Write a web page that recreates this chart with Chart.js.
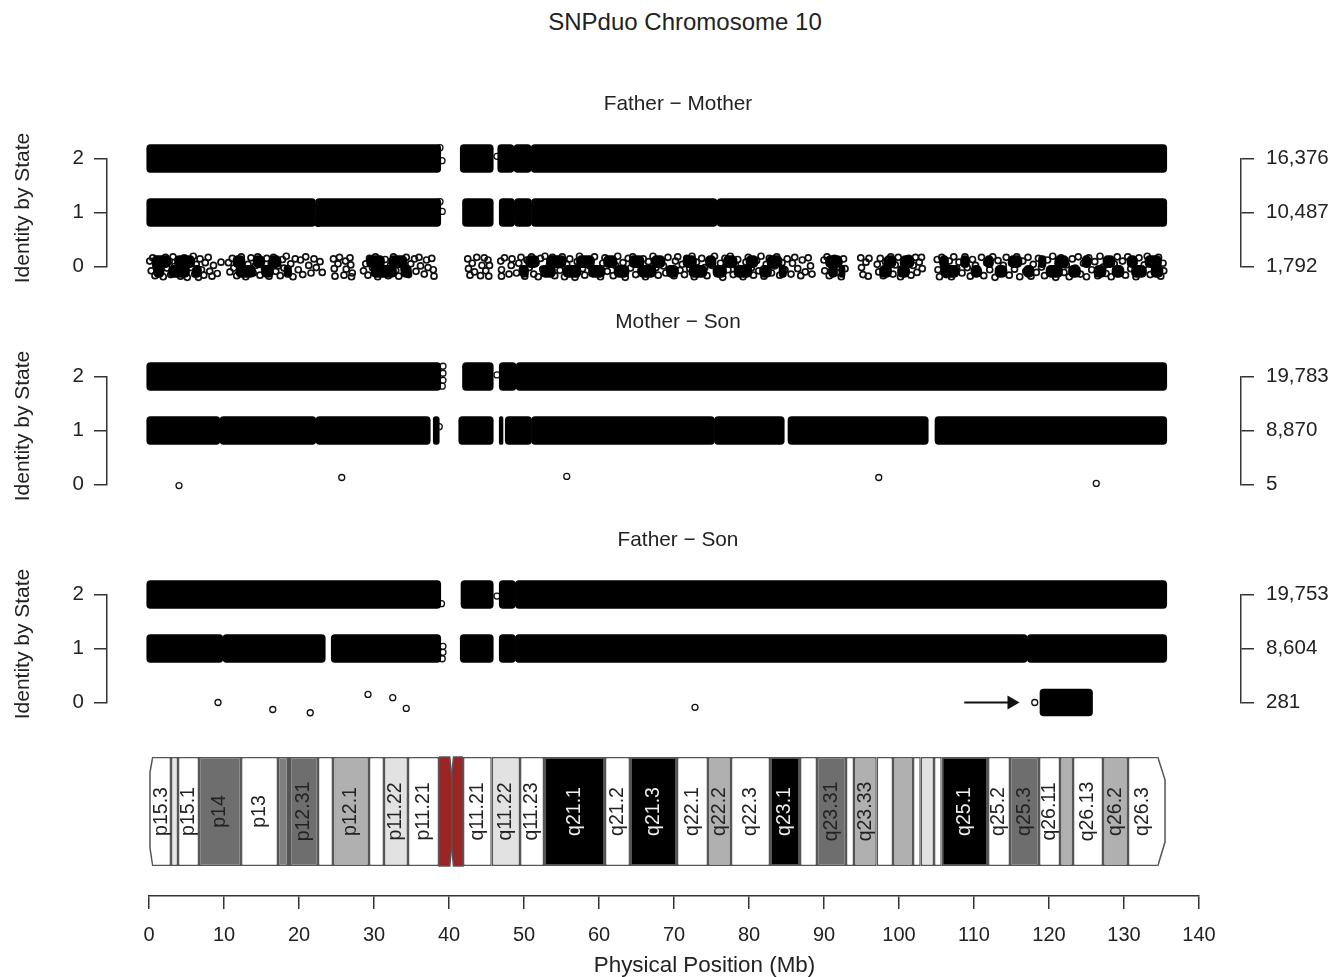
<!DOCTYPE html>
<html>
<head>
<meta charset="utf-8">
<title>SNPduo Chromosome 10</title>
<script src="https://cdn.jsdelivr.net/npm/chart.js@4/dist/chart.umd.min.js"></script>
<style>
  body { margin: 0; background: #fff; width: 1343px; height: 977px; overflow: hidden; position: relative; }
  canvas { position: absolute; left: 0; }
  .title { position: absolute; transform: translate(-50%, -50%); font-family: "Liberation Sans", sans-serif; color: #222; white-space: nowrap; }
  .side { transform: translate(-50%, -50%) rotate(-90deg); font-size: 21px; left: 22px; }
</style>
</head>
<body>
<canvas id="panel1" width="1343" height="218" style="top:85px"></canvas>
<canvas id="panel2" width="1343" height="218" style="top:303px"></canvas>
<canvas id="panel3" width="1343" height="218" style="top:521px"></canvas>
<canvas id="ideogram" width="1343" height="240" style="top:737px"></canvas>
<div class="title" style="left:685px;top:22px;font-size:24px">SNPduo Chromosome 10</div>
<div class="title" style="left:678px;top:103px;font-size:20.8px">Father − Mother</div>
<div class="title" style="left:678px;top:321px;font-size:20.8px">Mother − Son</div>
<div class="title" style="left:678px;top:539px;font-size:20.8px">Father − Son</div>
<div class="title side" style="top:208px">Identity by State</div>
<div class="title side" style="top:426px">Identity by State</div>
<div class="title side" style="top:644px">Identity by State</div>
<div class="title" style="left:704.5px;top:965px;font-size:22.4px">Physical Position (Mb)</div>
<script>
// tick labels
const stateTicks = ["0", "1", "2"];
const fmCounts = ["1,792", "10,487", "16,376"];
const msCounts = ["5", "8,870", "19,783"];
const fsCounts = ["281", "8,604", "19,753"];

// solid runs of overlapping points, [start, end] in Mb
const fmTwo = [[-0.3, 38.9], [41.5, 45.9], [46.5, 48.65], [48.65, 50.95], [50.95, 135.7]];
const fmOne = [[-0.3, 22.2], [22.2, 38.9], [41.8, 45.9], [46.7, 48.75], [48.75, 51], [51, 75.75], [75.75, 135.7]];
const msTwo = [[-0.3, 38.9], [41.8, 45.9], [46.7, 48.95], [48.95, 135.7]];
const msOne = [[-0.3, 9.45], [9.45, 22.25], [22.25, 37.5], [37.9, 38.7], [41.3, 45.9], [46.7, 47.2], [47.5, 51], [51, 75.4], [75.4, 84.7], [85.2, 103.9], [104.8, 135.7]];
const fsTwo = [[-0.3, 38.9], [41.6, 45.9], [46.7, 48.85], [48.85, 135.7]];
const fsOne = [[-0.3, 9.85], [9.85, 23.5], [24.3, 38.9], [41.5, 45.9], [46.7, 48.85], [48.85, 117.1], [117.1, 135.7]];
const fsZero = [[118.8, 125.8]];

// darkest clumps of the Father - Mother row at 0, upper and lower half
const fmZeroUpper = [[0.4, 2.9], [3.4, 6.1], [11.2, 12.8], [13.9, 15.4], [16, 17.6], [29, 31.4], [32, 34.4], [50.2, 52], [53, 55.6], [57, 59.4], [60.6, 62.4], [64, 66], [67, 68.8], [71.2, 73], [74.2, 75.6], [76.6, 78.4], [79.6, 81.2], [82.4, 84.4], [90.2, 92.4], [98, 99.6], [100.2, 102], [105.4, 106.6], [108.2, 109.4], [111.4, 112.6], [114.6, 116.4], [118.6, 119.6], [120.8, 122.6], [124.4, 125.6], [127.2, 128.8], [130.4, 131.8], [132.8, 135]];
const fmZeroLower = [[0.6, 2], [2.6, 5.4], [5.8, 7], [11.6, 14.2], [15, 16.6], [18, 19], [29.6, 33], [33.6, 35], [49.4, 50.6], [52.2, 54.2], [55.2, 57.6], [58.6, 60.8], [62, 64], [65.2, 67.6], [69, 70.6], [72, 74.4], [75.2, 77], [78, 80.4], [81.4, 83], [84, 85], [90.6, 91.8], [92, 92.8], [97.4, 99], [99.8, 101.4], [105.6, 108], [109.6, 111], [112.8, 114.4], [116.6, 118], [119.6, 121.8], [122.6, 124.2], [126, 127.6], [128.4, 130], [131, 133], [133.6, 135.2]];

// single points, [Mb, state offset]
const fmZero = [
  [.1,.1],[.3,-.08],[.5,.16],[.8,-.17],[.9,.02],[1.2,.13],[1.4,-.12],[1.7,.05],[1.9,-.19],[2.2,.17],[2.4,-.03],[2.7,.1],[2.9,-.15],[3.2,.18],[3.4,0],[3.7,-.1],[3.9,.12],[4.2,-.18],[4.4,.06],[4.7,.16],[4.9,-.07],[5.1,-.2],[5.4,.11],[5.6,-.02],[5.9,.19],[6.1,-.14],[6.3,.04],[6.6,-.2],[6.8,.14],[7,-.06],[7.3,-.16],[7.5,.07],
  [7.9,.17],[8.1,-.09],[8.4,-.18],[8.6,.02],[9.1,-.13],[9.6,.08],
  [10.6,.07],[10.8,-.1],[11.1,.15],[11.3,-.03],[11.7,-.17],[12,.11],[12.3,.18],[12.6,-.06],[12.9,-.19],[13.2,.04],[13.6,.16],[13.9,-.12],[14.2,.02],[14.5,.18],[14.8,-.16],[15,.09],[15.4,-.04],[15.7,.15],[16,-.18],[16.3,.06],[16.6,.17],[16.9,-.09],[17.2,.01],[17.5,-.17],[17.8,.13],[18,-.03],[18.3,.19],[18.6,-.13],[18.9,.05],[19.2,-.19],[19.5,.14],
  [19.9,-.06],[20.2,.12],[20.5,-.15],[20.9,.18],[21.3,.02],[21.6,-.12],[22,.14],[22.3,-.02],[22.8,.09],[23.1,-.11],
  [24.6,.14],[24.7,-.04],[24.8,-.18],[25.2,.05],[25.4,.17],[26,-.16],[26.2,.1],[26.3,-.05],[26.8,.16],[26.9,.03],[27.1,-.12],[27,-.19],
  [28.6,-.08],[28.9,.05],[29.2,-.16],[29.4,.15],[29.8,-.02],[30.2,.18],[30.5,-.19],[30.8,.08],[31.2,-.1],[31.5,.13],[31.9,-.17],[32.2,.02],[32.6,.18],[32.9,-.07],[33.3,-.18],[33.6,.11],[34,-.04],[34.3,.17],[34.6,-.15],[34.9,.05],[35.4,.14],[35.6,-.09],[36,.17],[36.2,.01],[36.7,-.14],[37,.12],[37.2,-.02],[37.7,.15],[37.9,-.06],[38,-.18],
  [42.5,.14],[42.6,-.04],[42.8,-.16],[43.1,.06],[43.4,-.1],[43.7,.17],[44.2,-.17],[44.4,.02],[44.7,.16],[44.9,-.08],[45.2,.12],[45.3,-.18],[45.4,.02],
  [46.9,.1],[47,-.06],[47,-.18],[47.4,.16],[48,-.14],[48.3,.02],[48.4,.14],
  [49,-.12],[49.3,.06],[49.6,.17],[49.8,-.05],[50.1,-.18],[50.4,.12],[50.7,-.02],[51,.18],[51.3,-.14],[51.6,.07],[51.9,-.19],[52.2,.15],[52.5,-.05],[52.8,.19],[53.1,-.12],[53.4,.03],[53.8,.17],[54.1,-.17],[54.4,.08],[54.8,-.07],[55.1,.18],[55.4,-.19],[55.7,.04],[56.1,.14],[56.4,-.11],[56.8,-.2],[57.1,.09],[57.4,.19],[57.8,-.04],[58.1,-.16],[58.4,.12],[58.8,.01],[59.1,-.13],[59.4,.18],[59.8,-.06],[60.2,-.19],[60.5,.06],[60.8,.16],[61.1,-.09],[61.5,.13],[61.9,-.17],[62.2,.02],[62.5,.19],[62.9,-.12],[63.2,.07],[63.5,-.2],[63.9,.15],[64.2,-.03],[64.5,.18],[64.9,-.15],[65.2,.04],[65.6,-.07],[65.9,.14],[66.2,-.19],[66.6,.09],[66.9,-.1],[67.2,.19],[67.6,-.02],[67.9,-.16],[68.3,.12],[68.6,.01],[68.9,-.12],[69.2,.17],[69.4,-.05],
  [70,-.17],[70.2,.1],[70.5,.18],[70.8,-.07],[71.1,.04],[71.4,-.15],[71.7,.15],[72.1,-.04],[72.4,.19],[72.7,-.19],[73,.08],[73.4,-.1],[73.7,.15],[74.1,-.02],[74.4,-.17],[74.7,.12],[75.1,.02],[75.4,.19],[75.8,-.13],[76.2,.06],[76.5,-.2],[76.8,.15],[77.2,-.06],[77.5,.19],[77.9,-.15],[78.2,.03],[78.5,.13],[78.9,-.1],[79.2,-.19],[79.6,.08],[79.9,.17],[80.3,-.03],[80.6,-.16],[81,.11],[81.3,-.08],[81.6,.19],[82,-.18],[82.3,.04],[82.7,.15],[83,-.12],[83.4,.01],[83.7,.18],[84.1,-.16],[84.4,.07],[84.8,-.06],[85.1,.14],
  [85.6,-.14],[85.8,.06],[86.1,.17],[86.5,-.04],[86.9,-.17],[87.1,.12],[87.5,-.1],[87.9,.16],[88.2,.01],[88.4,-.14],
  [90,.12],[90.1,-.08],[90.4,.18],[90.7,-.17],[91,.03],[91.4,.15],[91.7,-.11],[92,.08],[92.3,-.19],[92.6,.14],[92.8,-.04],
  [94.9,.16],[95,-.02],[95.2,-.15],[95.6,.08],[95.9,-.18],[96,.15],
  [97.1,.04],[97.3,-.1],[97.5,.15],[97.9,-.17],[98.2,.09],[98.5,-.05],[98.9,.18],[99.2,-.14],[99.5,.03],[99.9,.17],[100.2,-.19],[100.6,.07],[100.9,-.08],[101.3,.15],[101.6,-.16],[101.9,.02],[102.2,.17],[102.4,-.11],[102.7,.08],[103.1,-.04],[103,.17],
  [105.1,.13],[105.2,-.06],[105.4,-.19],[105.7,.17],[106,.03],[106.3,-.15],[106.7,.1],[107,-.19],[107.3,.18],[107.7,-.04],[108,.08],[108.4,-.12],[108.8,.18],[109.1,-.02],[109.5,-.18],[109.8,.13],[110.2,.02],[110.6,-.1],[111,.17],[111.3,-.17],[111.7,.07],[112.1,-.06],[112.5,.18],[112.8,-.2],[113.2,.11],[113.5,-.11],[113.9,.02],[114.3,.17],[114.7,-.16],[115,.07],[115.4,-.05],[115.7,.18],[116.1,-.19],[116.5,.1],[116.9,-.09],[117.2,.17],[117.6,-.18],[117.9,.04],[118.3,-.11],[118.6,.15],[119,-.01],[119.4,-.17],[119.8,.12],[120.1,-.07],[120.5,.19],[120.9,-.2],[121.2,.06],[121.6,.16],[122,-.11],[122.3,.03],[122.7,-.19],[123.1,.14],[123.5,-.03],[123.9,.18],[124.2,-.14],[124.6,.06],[125,-.19],[125.3,.16],[125.7,-.06],[126.1,.09],[126.5,-.17],[126.8,.19],[127.2,-.01],[127.6,-.13],[128,.12],[128.3,-.19],[128.7,.05],[129.1,.18],[129.4,-.09],[129.8,.1],[130.2,-.16],[130.5,.18],[130.9,-.04],[131.3,.08],[131.6,-.19],[132,.16],[132.4,-.09],[132.7,.03],[133.1,.19],[133.5,-.15],[133.8,.09],[134.2,-.05],[134.6,.17],[134.9,-.18],[135.2,.06],[135.3,-.08]
];
const msZero = [[4, -0.02], [25.7, 0.13], [55.7, 0.15], [97.3, 0.13], [126.3, 0.02]];
const fsLow = [[9.2, 0], [16.5, -0.13], [21.5, -0.19], [29.2, 0.15], [32.5, 0.09], [34.3, -0.11], [72.8, -0.09], [118.1, 0]];

// loose points just off the solid runs, [Mb, state]
const fmEdge = [[38.8, 2.2], [39.07, 1.96], [46.4, 2.04], [38.8, 1.2], [39.1, 1.02], [22.5, 0.8]];
const msEdge = [[39.2, 2.19], [39.2, 2.06], [39.2, 1.93], [39.1, 1.82], [46.4, 2.03], [38.7, 1.07]];
const fsEdge = [[39, 1.83], [46.4, 1.97], [39.2, 1.04], [39.2, 0.93], [39.1, 0.81]];

// arrow beside the Father - Son run at 0
const arrowX = [108.7, 115];

// ideogram bands
const bandLabels = ["p15.3", "", "p15.1", "p14", "p13", "", "", "p12.31", "", "p12.1", "", "p11.22", "p11.21", "q11.21", "q11.22", "q11.23", "q21.1", "q21.2", "q21.3", "q22.1", "q22.2", "q22.3", "q23.1", "", "q23.31", "", "q23.33", "", "", "", "", "", "q25.1", "q25.2", "q25.3", "q26.11", "", "q26.13", "q26.2", "q26.3"];
const bandStarts = [0.5, 2.93, 3.87, 6.67, 12.27, 17.2, 18.53, 18.8, 22.53, 24.53, 29.33, 31.33, 34.53, 41.87, 45.7, 49.47, 52.67, 60.8, 64.13, 70.4, 74.53, 77.6, 82.8, 86.8, 89.07, 92.93, 94, 97.03, 99.2, 101.87, 102.9, 104.67, 105.7, 111.87, 114.8, 118.67, 121.47, 123.2, 127.2, 130.53];
const bandEnds = [2.93, 3.87, 6.67, 12.27, 17.2, 18.53, 18.8, 22.53, 24.53, 29.33, 31.33, 34.53, 38.67, 45.7, 49.47, 52.67, 60.8, 64.13, 70.4, 74.53, 77.6, 82.8, 86.8, 89.07, 92.93, 94, 97.03, 99.2, 101.87, 102.9, 104.67, 105.7, 111.87, 114.8, 118.67, 121.47, 123.2, 127.2, 130.53, 134.5];
const bandColors = ["#fff", "#e6e6e6", "#fff", "#6e6e6e", "#fff", "#808080", "#000", "#6e6e6e", "#fff", "#b0b0b0", "#fff", "#e2e2e2", "#fff", "#fff", "#e2e2e2", "#fff", "#000", "#fff", "#000", "#fff", "#b0b0b0", "#fff", "#000", "#fff", "#6e6e6e", "#fff", "#b0b0b0", "#fff", "#b0b0b0", "#fff", "#e2e2e2", "#fff", "#000", "#fff", "#6e6e6e", "#fff", "#b0b0b0", "#fff", "#b0b0b0", "#fff"];
const whiteLabels = ["q21.1", "q21.3", "q23.1", "q25.1"];
const leftEnd = [[0.5, 1], [0.13, 0.86], [0.13, 0.165], [0.5, 0]];
const rightEnd = [[134.5, 1], [135.47, 0.79], [135.47, 0.22], [134.5, 0]];
const cenLeft = [[38.67, 1], [40.1, 1], [40.35, 0.82], [40.35, 0.18], [40.1, 0], [38.67, 0], [38.67, 1]];
const cenRight = [[41.87, 1], [40.6, 1], [40.35, 0.82], [40.35, 0.18], [40.6, 0], [41.87, 0], [41.87, 1]];

const FONT = "Liberation Sans";
const INK = "#222";
const LINE = "#333";

function runs(list, state, thick, radius) {
  return {
    type: "bar", indexAxis: "y", clip: false, grouped: false,
    data: list.map(r => ({ x: r, y: state })),
    backgroundColor: "#000", barThickness: thick || 28, borderRadius: radius || 4, borderSkipped: false, borderWidth: 0
  };
}

function dots(list, stroke) {
  return {
    type: "scatter", clip: false,
    data: list.map(p => ({ x: p[0], y: p[1] })),
    pointRadius: 3, borderColor: "#111", borderWidth: stroke || 1.3, backgroundColor: "transparent", showLine: false
  };
}

// points are jittered past the 0 and 2 ticks, so widen the area only while datasets draw
const looseArea = {
  id: "looseArea",
  beforeDatasetsDraw(chart) {
    chart.$area = chart.chartArea;
    chart.chartArea = Object.assign({}, chart.$area, { top: chart.$area.top - 30, bottom: chart.$area.bottom + 30 });
  },
  afterDatasetsDraw(chart) {
    chart.chartArea = chart.$area;
  }
};

function panel(id, datasets, counts) {
  new Chart(document.getElementById(id), {
    type: "scatter",
    data: { datasets: datasets },
    options: {
      responsive: false,
      animation: false,
      events: [],
      layout: { padding: { top: 73.5, bottom: 36.5 } },
      plugins: { legend: { display: false }, tooltip: { enabled: false } },
      scales: {
        x: { type: "linear", display: false, min: -5.6, max: 145.6, offset: false, grid: { offset: false } },
        y: {
          type: "linear", position: "left", min: 0, max: 2, offset: false,
          afterFit: s => { s.width = 107; },
          border: { color: LINE, width: 1.5 },
          grid: { offset: false, drawOnChartArea: false, color: LINE, lineWidth: 1.5, tickLength: 13 },
          ticks: { stepSize: 1, color: INK, padding: 10, font: { family: FONT, size: 20.5 }, callback: v => stateTicks[v] }
        },
        y2: {
          type: "linear", position: "right", min: 0, max: 2, offset: false,
          afterFit: s => { s.width = 102; },
          border: { color: LINE, width: 1.5 },
          grid: { offset: false, drawOnChartArea: false, color: LINE, lineWidth: 1.5, tickLength: 13 },
          ticks: { stepSize: 1, color: INK, padding: 12, font: { family: FONT, size: 20.5 }, callback: v => counts[v] }
        }
      }
    },
    plugins: [looseArea]
  });
}

panel("panel1", [
  runs(fmTwo, 2), runs(fmOne, 1),
  runs(fmZeroUpper, 0.09, 12, 5), runs(fmZeroLower, -0.09, 12, 5),
  dots(fmZero, 1.7), dots(fmEdge)
], fmCounts);

panel("panel2", [
  runs(msTwo, 2), runs(msOne, 1),
  dots(msZero), dots(msEdge)
], msCounts);

panel("panel3", [
  runs(fsTwo, 2), runs(fsOne, 1), runs(fsZero, 0, 27),
  dots(fsLow), dots(fsEdge),
  {
    type: "scatter", clip: false, showLine: true,
    data: arrowX.map(x => ({ x: x, y: 0 })),
    borderColor: "#111", borderWidth: 2,
    pointStyle: "triangle", rotation: 90, backgroundColor: "#111",
    pointRadius: [0, 8], pointBorderWidth: 0
  }
], fsCounts);

// band names sit inside the bars, following the x scale
const bandText = {
  id: "bandText",
  afterDatasetsDraw(chart) {
    const ctx = chart.ctx;
    const x = chart.scales.x, y = chart.scales.y;
    ctx.save();
    ctx.font = "19.5px '" + FONT + "'";
    ctx.textAlign = "center";
    ctx.textBaseline = "middle";
    bandLabels.forEach((name, i) => {
      if (!name) return;
      ctx.save();
      ctx.translate(x.getPixelForValue((bandStarts[i] + bandEnds[i]) / 2), y.getPixelForValue(0.5));
      ctx.rotate(-Math.PI / 2);
      ctx.fillStyle = whiteLabels.includes(name) ? "#eee" : INK;
      ctx.fillText(name, 0, 0);
      ctx.restore();
    });
    ctx.restore();
  }
};

function outline(points, fillColor) {
  return {
    type: "scatter", clip: false, showLine: true,
    data: points.map(p => ({ x: p[0], y: p[1] })),
    pointRadius: 0, borderColor: "#555", borderWidth: 1.5,
    backgroundColor: fillColor || "transparent", fill: fillColor ? "shape" : false
  };
}

new Chart(document.getElementById("ideogram"), {
  type: "scatter",
  data: {
    datasets: [
      {
        type: "bar", indexAxis: "y", clip: false, grouped: false,
        data: bandStarts.map((s, i) => ({ x: [s, bandEnds[i]], y: 0.5 })),
        backgroundColor: bandColors,
        borderColor: "#555", borderWidth: 1.5, barThickness: 109, inflateAmount: 0,
        borderSkipped: c => c.dataIndex === 0 ? "left" : c.dataIndex === bandStarts.length - 1 ? "right" : false
      },
      outline(leftEnd), outline(rightEnd),
      outline(cenLeft, "#9c2424"), outline(cenRight, "#9c2424")
    ]
  },
  options: {
    responsive: false,
    animation: false,
    events: [],
    layout: { padding: { top: 20, left: 149, right: 144 } },
    plugins: { legend: { display: false }, tooltip: { enabled: false } },
    scales: {
      x: {
        type: "linear", position: "bottom", min: 0, max: 140, offset: false,
        afterFit: s => { s.height = 81; },
        border: { color: LINE, width: 1.5 },
        grid: { offset: false, drawOnChartArea: false, color: LINE, lineWidth: 1.5, tickLength: 13 },
        ticks: { stepSize: 10, color: INK, padding: 14, maxRotation: 0, autoSkip: false, font: { family: FONT, size: 20 } }
      },
      y: { type: "linear", display: false, min: -0.2752, max: 1, offset: false, grid: { offset: false } }
    }
  },
  plugins: [bandText]
});
</script>
</body>
</html>
